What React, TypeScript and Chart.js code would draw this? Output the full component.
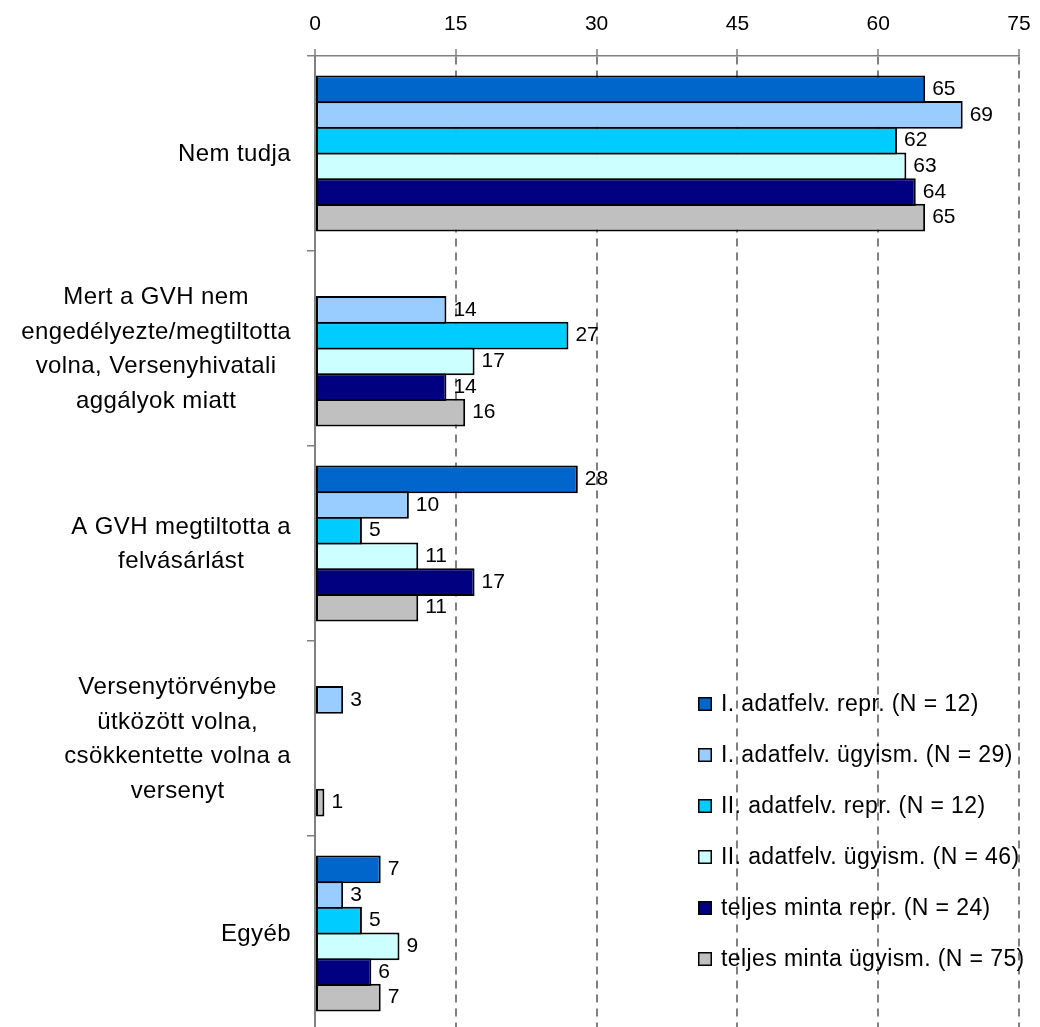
import React, { useEffect, useRef } from "react";
import { Chart, registerables } from "chart.js";

Chart.register(...registerables);

const FONT = "'Liberation Sans', Arial, Helvetica, sans-serif";

// Answer categories (multi-line labels)
const categories: string[][] = [
  ["Nem tudja"],
  ["Mert a GVH nem", "engedélyezte/megtiltotta", "volna, Versenyhivatali", "aggályok miatt"],
  ["A GVH megtiltotta a", "felvásárlást"],
  ["Versenytörvénybe", "ütközött volna,", "csökkentette volna a", "versenyt"],
  ["Egyéb"],
];

const seriesNames = [
  "I. adatfelv. repr. (N = 12)",
  "I. adatfelv. ügyism. (N = 29)",
  "II. adatfelv. repr. (N = 12)",
  "II. adatfelv. ügyism. (N = 46)",
  "teljes minta repr. (N = 24)",
  "teljes minta ügyism. (N = 75)",
];

const seriesColors = ["#0066CC", "#99CCFF", "#00CCFF", "#CCFFFF", "#000080", "#C0C0C0"];

// Percentages per category
const survey1Repr = [65, null, 28, null, 7];
const survey1Case = [69, 14, 10, 3, 3];
const survey2Repr = [62, 27, 5, null, 5];
const survey2Case = [63, 17, 11, null, 9];
const fullRepr = [64, 14, 17, null, 6];
const fullCase = [65, 16, 11, 1, 7];

const xMin = 0;
const xMax = 75;
const xStep = 15;

const seriesValues = [survey1Repr, survey1Case, survey2Repr, survey2Case, fullRepr, fullCase];

// Multi-line category labels, each line centred within its block
const categoryLabelPlugin = {
  id: "categoryLabels",
  afterDraw(chart: any) {
    const { ctx } = chart;
    const yScale = chart.scales.y;
    ctx.save();
    ctx.font = `24px ${FONT}`;
    (ctx as any).letterSpacing = "0.4px";
    ctx.fillStyle = "#000";
    ctx.textAlign = "center";
    ctx.textBaseline = "middle";
    const lineHeight = 34.5;
    const rightEdge = 291;
    categories.forEach((lines, i) => {
      const cy = yScale.getPixelForValue(i) + 1;
      const w = Math.max(...lines.map((l) => ctx.measureText(l).width));
      const cx = rightEdge - w / 2;
      lines.forEach((line, j) => {
        ctx.fillText(line, cx, cy + (j - (lines.length - 1) / 2) * lineHeight);
      });
    });
    ctx.restore();
  },
};

// Value labels at the end of each bar
const valueLabelPlugin = {
  id: "valueLabels",
  afterDatasetsDraw(chart: any) {
    const { ctx } = chart;
    ctx.save();
    ctx.font = `21px ${FONT}`;
    ctx.fillStyle = "#000";
    ctx.textAlign = "left";
    ctx.textBaseline = "middle";
    chart.data.datasets.forEach((ds: any, di: number) => {
      const meta = chart.getDatasetMeta(di);
      meta.data.forEach((bar: any, i: number) => {
        const v = ds.data[i];
        if (v === null || v === undefined) return;
        ctx.fillText(String(v), bar.x + 7, bar.y);
      });
    });
    ctx.restore();
  },
};

// Legend block inside the plot area, lower right
const legendPlugin = {
  id: "insideLegend",
  afterDraw(chart: any) {
    const { ctx } = chart;
    ctx.save();
    ctx.font = `23px ${FONT}`;
    (ctx as any).letterSpacing = "0.4px";
    ctx.textAlign = "left";
    ctx.textBaseline = "middle";
    const x0 = 698;
    const y0 = 704;
    const rowGap = 51;
    chart.data.datasets.forEach((ds: any, i: number) => {
      const y = y0 + i * rowGap;
      ctx.fillStyle = ds.backgroundColor;
      ctx.fillRect(x0, y - 7, 14, 14);
      ctx.strokeStyle = "#000";
      ctx.lineWidth = 1.5;
      ctx.strokeRect(x0 + 0.75, y - 6.25, 12.5, 12.5);
      ctx.fillStyle = "#000";
      ctx.fillText(ds.label, x0 + 23, y + 1);
    });
    ctx.restore();
  },
};

export default function App() {
  const canvasRef = useRef<HTMLCanvasElement | null>(null);

  useEffect(() => {
    const canvas = canvasRef.current;
    if (!canvas) return;
    const chart = new Chart(canvas, {
      type: "bar",
      data: {
        labels: categories,
        datasets: seriesValues.map((vals, i) => ({
          label: seriesNames[i],
          data: vals,
          backgroundColor: seriesColors[i],
          borderColor: "#000",
          borderWidth: 2,
          borderSkipped: false,
          categoryPercentage: 0.79,
          barPercentage: 1.08,
        })),
      },
      options: {
        indexAxis: "y",
        responsive: false,
        animation: false,
        layout: { padding: { left: 0, right: 21, top: 0, bottom: 9 } },
        plugins: {
          legend: { display: false },
          tooltip: { enabled: false },
        },
        scales: {
          x: {
            position: "top",
            min: xMin,
            max: xMax,
            ticks: {
              stepSize: xStep,
              color: "#000",
              font: { family: FONT, size: 21 },
              padding: 12,
            },
            grid: {
              color: "#808080",
              lineWidth: 2,
              drawTicks: true,
              tickLength: 7,
              tickColor: "#808080",
              tickWidth: 1.5,
            },
            border: { display: true, color: "#808080", width: 1.5, dash: [8, 6] },
            afterFit(scale: any) {
              scale.height = 56;
              scale.paddingLeft = 0;
              scale.paddingRight = 0;
            },
          },
          y: {
            position: "left",
            ticks: { display: false },
            grid: {
              offset: true,
              drawOnChartArea: false,
              drawTicks: true,
              tickLength: 8,
              color: "#808080",
              lineWidth: 1.5,
            },
            border: { display: true, color: "#808080", width: 2 },
            afterFit(scale: any) {
              scale.width = 315;
            },
          },
        },
      },
      plugins: [categoryLabelPlugin, valueLabelPlugin, legendPlugin],
    } as any);
    return () => chart.destroy();
  }, []);

  return (
    <div
      style={{
        position: "absolute",
        left: 0,
        top: 0,
        width: 1040,
        height: 1027,
        overflow: "hidden",
        background: "#fff",
      }}
    >
      <canvas ref={canvasRef} width={1040} height={1040} style={{ display: "block" }} />
    </div>
  );
}
